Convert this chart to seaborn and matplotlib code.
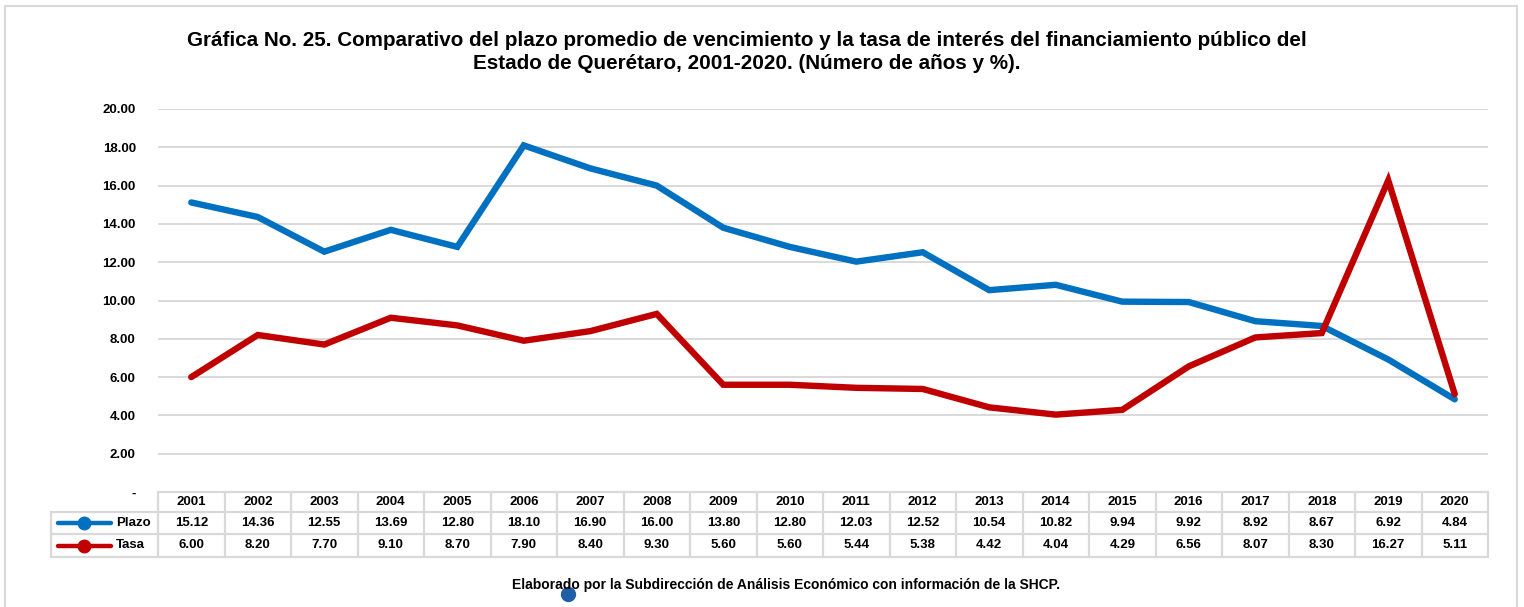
import matplotlib
matplotlib.use("Agg")
import matplotlib.pyplot as plt
from matplotlib.transforms import blended_transform_factory
from matplotlib.patches import Rectangle
from matplotlib.lines import Line2D
import seaborn as sns
import pandas as pd
import numpy as np

years = ["2001", "2002", "2003", "2004", "2005", "2006", "2007", "2008", "2009", "2010",
         "2011", "2012", "2013", "2014", "2015", "2016", "2017", "2018", "2019", "2020"]
plazo = [15.12, 14.36, 12.55, 13.69, 12.80, 18.10, 16.90, 16.00, 13.80, 12.80,
         12.03, 12.52, 10.54, 10.82, 9.94, 9.92, 8.92, 8.67, 6.92, 4.84]
tasa = [6.00, 8.20, 7.70, 9.10, 8.70, 7.90, 8.40, 9.30, 5.60, 5.60,
        5.44, 5.38, 4.42, 4.04, 4.29, 6.56, 8.07, 8.30, 16.27, 5.11]
series_names = ["Plazo", "Tasa"]
colors = {"Plazo": "#0070C0", "Tasa": "#C00000"}
yticks = [0, 2, 4, 6, 8, 10, 12, 14, 16, 18, 20]
title = ("Gráfica No. 25. Comparativo del plazo promedio de vencimiento y la tasa de interés del financiamiento público del\n"
         "Estado de Querétaro, 2001-2020. (Número de años y %).")
footer = "Elaborado por la Subdirección de Análisis Económico con información de la SHCP."

sns.set_theme(style="white")
plt.rcParams["font.family"] = ["Liberation Sans", "DejaVu Sans"]
plt.rcParams["text.color"] = "black"
plt.rcParams["ytick.color"] = "black"
plt.rcParams["ytick.labelcolor"] = "black"

W, H = 1524, 607
fig = plt.figure(figsize=(W / 100, H / 100), dpi=100)

def fx(px):
    return px / W

def fy(py):
    return 1 - py / H

ax_left, ax_right, ax_top, ax_bottom = 158, 1488, 109, 492
ax = fig.add_axes([fx(ax_left), fy(ax_bottom), fx(ax_right - ax_left), (ax_bottom - ax_top) / H])

df = pd.DataFrame({
    "idx": list(range(len(years))) * 2,
    "value": plazo + tasa,
    "serie": ["Plazo"] * len(years) + ["Tasa"] * len(years),
})
sns.lineplot(data=df, x="idx", y="value", hue="serie", palette=colors, linewidth=4.6,
             legend=False, ax=ax, solid_capstyle="round", solid_joinstyle="miter", zorder=3)

ax.set_xlim(-0.5, len(years) - 0.5)
ax.set_ylim(0, 20)
ax.set_yticks(yticks)
ax.set_yticklabels(["-" if v == 0 else f"{v:.2f}" for v in yticks], fontsize=9.5, fontweight="bold",
                   color="black")
ax.tick_params(axis="y", length=0, pad=16)
ax.set_xticks([])
ax.set_xlabel("")
ax.set_ylabel("")
for s in ax.spines.values():
    s.set_visible(False)
for v in yticks[1:]:
    ax.axhline(v, color="#d9d9d9", linewidth=1.4, zorder=1)

# figure border
fig.patches.append(Rectangle((fx(5), fy(612)), fx(1517 - 5), (612 - 6) / H, transform=fig.transFigure,
                             fill=False, edgecolor="#d9d9d9", linewidth=1.5))

# title
fig.text(fx(747), fy(52), title, ha="center", va="center", fontsize=14.9, fontweight="bold",
         linespacing=1.25, color="black")

# data table
tr = blended_transform_factory(ax.transData, fig.transFigure)
grid_c = "#d9d9d9"
lw = 1.6
row_y = [492, 512, 534, 557]
n = len(years)
fig.add_artist(Line2D([-0.5, n - 0.5], [fy(row_y[0])] * 2, transform=tr, color=grid_c, lw=lw))
for yy in row_y[1:]:
    fig.add_artist(Line2D([fx(51), fx(ax_right)], [fy(yy)] * 2, transform=fig.transFigure, color=grid_c, lw=lw))
for i in range(n + 1):
    fig.add_artist(Line2D([i - 0.5, i - 0.5], [fy(row_y[0]), fy(row_y[3])], transform=tr, color=grid_c, lw=lw))
fig.add_artist(Line2D([fx(51), fx(51)], [fy(row_y[1]), fy(row_y[3])], transform=fig.transFigure, color=grid_c, lw=lw))

for i, yr in enumerate(years):
    fig.text(i, fy((row_y[0] + row_y[1]) / 2), yr, transform=tr, ha="center", va="center",
             fontsize=9.5, fontweight="bold", color="black")
    fig.text(i, fy((row_y[1] + row_y[2]) / 2), f"{plazo[i]:.2f}", transform=tr, ha="center", va="center",
             fontsize=9.5, fontweight="bold", color="black")
    fig.text(i, fy((row_y[2] + row_y[3]) / 2), f"{tasa[i]:.2f}", transform=tr, ha="center", va="center",
             fontsize=9.5, fontweight="bold", color="black")

for k, name in enumerate(series_names):
    yc = fy((row_y[k + 1] + row_y[k + 2]) / 2)
    fig.add_artist(Line2D([fx(58), fx(111)], [yc, yc], transform=fig.transFigure,
                          color=colors[name], lw=3.2, solid_capstyle="round"))
    fig.add_artist(Line2D([fx(84)], [yc], transform=fig.transFigure, marker="o", markersize=9,
                          color=colors[name], markeredgecolor=colors[name]))
    fig.text(fx(116), yc, name, ha="left", va="center", fontsize=9.5, fontweight="bold", color="black")

# footer
fig.text(fx(786), fy(585), footer, ha="center", va="center", fontsize=10, fontweight="bold",
         color="black")
fig.add_artist(Line2D([fx(568)], [fy(594)], transform=fig.transFigure, marker="o", markersize=10,
                      color="#1F5FA8", markeredgecolor="#1F5FA8"))

fig.savefig("out.png", dpi=100)
